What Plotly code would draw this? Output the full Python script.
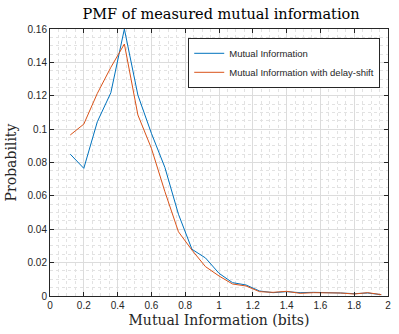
import plotly.graph_objects as go

bins = [0.12, 0.20, 0.28, 0.36, 0.44, 0.52, 0.60, 0.68, 0.76, 0.84, 0.92, 1.00,
        1.08, 1.16, 1.24, 1.32, 1.40, 1.48, 1.56, 1.64, 1.72, 1.80, 1.88, 1.96]
mi = [0.085, 0.0765, 0.1044, 0.1218, 0.160, 0.1204, 0.0975, 0.077, 0.0490, 0.028,
      0.0228, 0.0136, 0.0080, 0.0066, 0.0030, 0.0020, 0.0026, 0.0020, 0.0022, 0.0022,
      0.0018, 0.0014, 0.0018, 0.0008]
mi_shift = [0.0965, 0.103, 0.1214, 0.137, 0.151, 0.1085, 0.0885, 0.0625, 0.0385, 0.0275,
            0.0176, 0.0120, 0.0072, 0.0060, 0.0026, 0.0022, 0.0028, 0.0016, 0.0020, 0.0020,
            0.0018, 0.0012, 0.0020, 0.0008]

x_ticks = [0, 0.2, 0.4, 0.6, 0.8, 1, 1.2, 1.4, 1.6, 1.8, 2]
x_tick_labels = ["0", "0.2", "0.4", "0.6", "0.8", "1", "1.2", "1.4", "1.6", "1.8", "2"]
y_ticks = [0, 0.02, 0.04, 0.06, 0.08, 0.1, 0.12, 0.14, 0.16]
y_tick_labels = ["0", "0.02", "0.04", "0.06", "0.08", "0.1", "0.12", "0.14", "0.16"]

fig = go.Figure()
fig.add_trace(go.Scatter(x=bins, y=mi, mode="lines", name="Mutual Information",
                         line=dict(color="#0072BD", width=1)))
fig.add_trace(go.Scatter(x=bins, y=mi_shift, mode="lines", name="Mutual Information with delay-shift",
                         line=dict(color="#D95319", width=1)))

serif = "DejaVu Serif, serif"
sans = "Liberation Sans, Arial, sans-serif"
axis_common = dict(
    showline=True, linecolor="#262626", linewidth=1, mirror="ticks",
    ticks="inside", ticklen=4, tickcolor="#262626",
    showgrid=True, gridcolor="#dcdcdc", gridwidth=1,
    zeroline=False, ticklabeloverflow="allow",
    tickfont=dict(family=sans, size=10, color="#262626"),
)
fig.update_xaxes(
    range=[0, 2], tickvals=x_ticks, ticktext=x_tick_labels,
    title=dict(text="Mutual Information (bits)", font=dict(family=serif, size=14, color="#262626"), standoff=5),
    minor=dict(dtick=0.05, showgrid=True, gridcolor="#e2e2e2", griddash="dot", gridwidth=1, ticks=""),
    **axis_common,
)
fig.update_yaxes(
    range=[0, 0.16], tickvals=y_ticks, ticktext=y_tick_labels,
    title=dict(text="Probability", font=dict(family=serif, size=14, color="#262626"), standoff=7),
    minor=dict(dtick=0.005, showgrid=True, gridcolor="#e2e2e2", griddash="dot", gridwidth=1, ticks=""),
    **axis_common,
)
fig.update_layout(
    width=399, height=334,
    margin=dict(l=50, r=8, t=29, b=38),
    paper_bgcolor="white", plot_bgcolor="white",
    title=dict(text="PMF of measured mutual information", x=0.554, xanchor="center",
               y=0.958, yanchor="middle", font=dict(family=serif, size=14.5, color="black")),
    legend=dict(x=0.977, y=0.967, xanchor="right", yanchor="top",
                bgcolor="white", bordercolor="#262626", borderwidth=1,
                font=dict(family=sans, size=9.5, color="#262626"),
                tracegroupgap=0, itemwidth=30),
    showlegend=True,
)
fig.write_html("out.html", config={"displayModeBar": False},
               post_script="document.body.style.margin='0';")
